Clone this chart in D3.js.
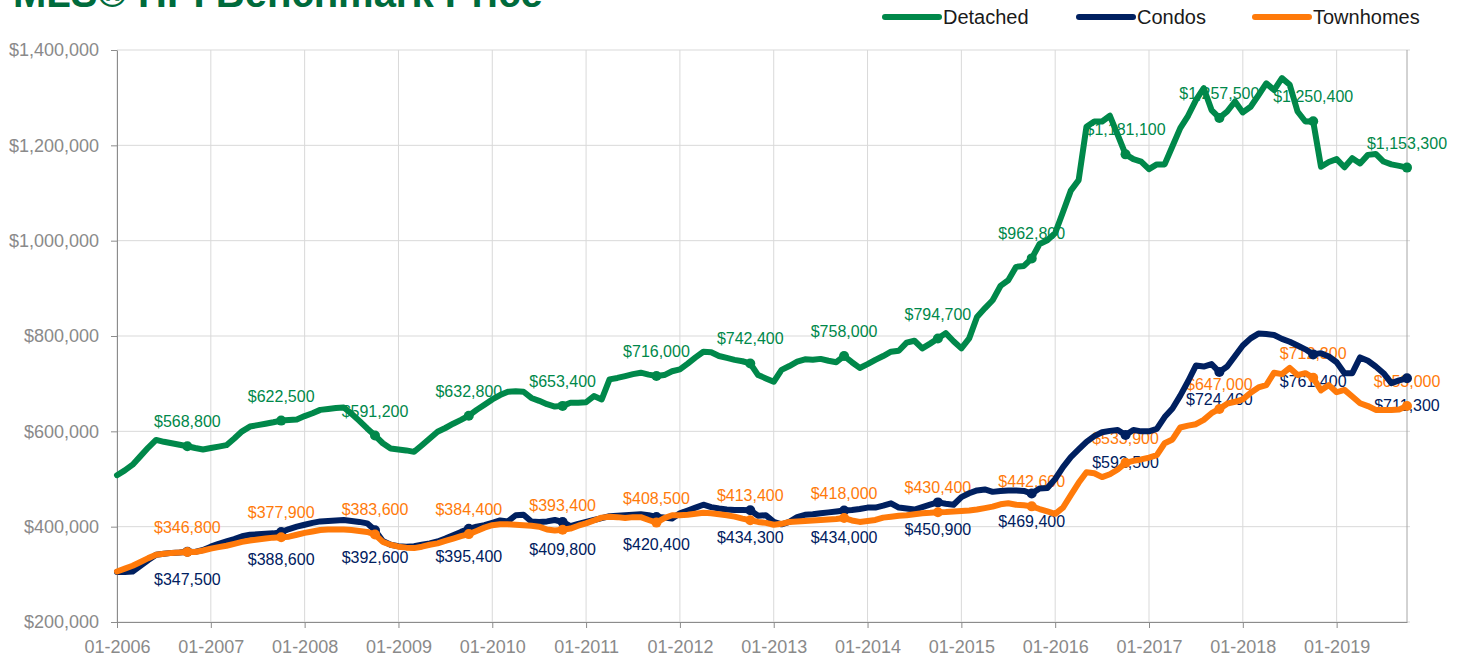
<!DOCTYPE html>
<html>
<head>
<meta charset="utf-8">
<script src="https://cdn.jsdelivr.net/npm/d3@7"></script>
<style>
  body { margin: 0; background: #fff; }
  svg { display: block; font-family: 'Liberation Sans', Arial, sans-serif; }
</style>
</head>
<body>
<div id="chart"></div>
<script>
// monthly categories, 01-2006 .. 10-2019
var months = d3.timeMonth.range(new Date(2006, 0, 1), new Date(2019, 10, 1))
  .map(d3.timeFormat('%m-%Y'));

// benchmark prices, thousands of dollars
var detached = [
  508, 518, 530, 548, 566, 582, 578, 575, 572, 568.8, 565, 562,
  565, 568, 571, 585, 600, 610, 613, 616, 619, 622.5, 624, 625,
  632, 638, 645, 647, 649, 650, 637, 622, 606, 591.2, 575, 564,
  562, 560, 557, 571, 585, 599, 607, 616, 624, 632.8, 645, 656,
  667, 676, 683, 684, 683, 670, 664, 657, 652, 653.4, 660, 660,
  661, 674, 667, 709, 712, 716, 720, 723, 719, 716.0, 718, 726,
  730, 742, 755, 767, 766, 758, 754, 750, 747, 742.4, 718, 711,
  704, 729, 737, 746, 751, 750, 752, 748, 745, 758.0, 745, 733,
  741, 750, 758, 767, 769, 786, 790, 774, 784, 794.7, 806, 789,
  774, 795, 840, 858, 875, 905, 917, 945, 947, 962.8, 993, 1001,
  1016, 1060, 1105, 1127, 1239, 1250, 1250, 1262, 1222, 1181.1, 1171, 1166,
  1150, 1160, 1160, 1198, 1236, 1262, 1295, 1320, 1274, 1257.5, 1271, 1292,
  1269, 1281, 1305, 1330, 1316, 1341, 1327, 1271, 1250, 1250.4, 1155, 1165,
  1171, 1154, 1173, 1162, 1180, 1182, 1166, 1160, 1157, 1153.3
];

var condos = [
  305, 305, 306, 318, 330, 341, 343, 345, 346, 347.5, 347, 351,
  358, 364, 369, 374, 380, 383, 384, 385, 386, 388.6, 395, 400,
  404, 408, 411, 412, 413, 414, 412, 410, 407, 392.6, 370, 362,
  359, 358, 359, 362, 365, 369, 375, 382, 389, 395.4, 400, 403,
  408, 413, 411, 424, 425, 411, 410, 411, 414, 409.8, 401, 406,
  410, 414, 418, 422, 423, 424, 425, 426, 424, 420.4, 419, 417,
  428, 434, 440, 446, 441, 438, 436, 435, 435, 434.3, 423, 424,
  410, 405, 410, 420, 425, 426, 428, 430, 432, 434.0, 435, 437,
  440, 440, 444, 449, 440, 438, 436, 441, 446, 450.9, 448, 446,
  462, 470, 476, 478, 473, 475, 476, 476, 475, 469.4, 480, 481,
  500, 525, 546, 562, 578, 590, 598, 601, 603, 592.5, 603, 600,
  600, 605, 630, 648, 675, 705, 738, 736, 741, 724.4, 736, 758,
  780, 795, 805, 804, 802, 794, 788, 780, 772, 761.4, 764, 757,
  745, 722, 722, 755, 748, 736, 722, 701, 707, 711.3
];

var townhomes = [
  306, 312, 318, 326, 334, 341, 343, 345, 346, 346.8, 347, 350,
  354, 357, 360, 364, 368, 371, 373, 375, 377, 377.9, 379, 383,
  387, 390, 393, 394, 394, 394, 393, 391, 389, 383.6, 368, 362,
  358, 356, 355, 358, 362, 365, 370, 375, 380, 384.4, 391, 398,
  403, 405, 405, 404, 403, 402, 400, 394, 392, 393.4, 396, 402,
  407, 413, 419, 421, 420, 418, 420, 420, 414, 408.5, 418, 424,
  424, 425, 427, 429, 428, 426, 424, 421, 417, 413.4, 410, 408,
  404, 406, 410, 411, 412, 413, 414, 415, 416, 418.0, 413, 410,
  412, 414, 419, 421, 423, 424, 426, 428, 429, 430.4, 431, 432,
  433, 434, 436, 439, 442, 447, 449, 446, 445, 442.6, 437, 432,
  427, 440, 466, 492, 514, 512, 504, 510, 520, 533.9, 538, 541,
  545, 550, 575, 583, 608, 612, 615, 624, 638, 647.0, 658, 662,
  667, 681, 692, 697, 723, 720, 733, 718, 722, 712.3, 686, 697,
  682, 687, 673, 659, 653, 645, 645, 645, 646, 653.0
];

var seriesNames = ['Detached', 'Condos', 'Townhomes'];
var seriesColors = ['#00884a', '#002060', '#ff7a0a'];
var yTicks = [200, 400, 600, 800, 1000, 1200, 1400];
var xTickLabels = ['01-2006', '01-2007', '01-2008', '01-2009', '01-2010', '01-2011', '01-2012',
  '01-2013', '01-2014', '01-2015', '01-2016', '01-2017', '01-2018', '01-2019'];

var Chart = function() {
  var width = 1464,
    height = 660,
    left = 117,
    right = 1407,
    top = 50,
    bottom = 622;

  var svg = d3.select('#chart')
    .append('svg')
    .attr('width', width)
    .attr('height', height);

  var x = d3.scalePoint()
    .domain(months)
    .range([left, right]);

  var y = d3.scaleLinear()
    .domain([200, 1400])
    .range([bottom, top]);

  var money = function(v) {
    return d3.format('$,')(Math.round(v * 1000));
  };

  var series = [detached, condos, townhomes].map(function(values, i) {
    return {
      name: seriesNames[i],
      color: seriesColors[i],
      points: values.map(function(v, j) { return { month: months[j], value: v }; })
    };
  });

  // title, mostly cut off at the top like the source
  svg.append('text')
    .attr('x', 13)
    .attr('y', 7)
    .attr('font-size', 40)
    .attr('font-weight', 'bold')
    .attr('fill', '#006b3c')
    .text('MLS® HPI Benchmark Price');

  // grid
  svg.append('g')
    .selectAll('line.h')
    .data(yTicks)
    .join('line')
    .attr('x1', left)
    .attr('x2', right + 3)
    .attr('y1', function(d) { return y(d); })
    .attr('y2', function(d) { return y(d); })
    .attr('stroke', '#d9d9d9')
    .attr('stroke-width', 1);

  svg.append('g')
    .selectAll('line.v')
    .data(xTickLabels)
    .join('line')
    .attr('x1', function(d) { return x(d); })
    .attr('x2', function(d) { return x(d); })
    .attr('y1', top)
    .attr('y2', bottom)
    .attr('stroke', '#d9d9d9')
    .attr('stroke-width', 1);

  svg.append('line')
    .attr('x1', right).attr('x2', right)
    .attr('y1', top).attr('y2', bottom)
    .attr('stroke', '#a6a6a6');

  // axes
  var yAxis = svg.append('g')
    .attr('transform', 'translate(' + left + ',0)')
    .call(d3.axisLeft(y)
      .tickValues(yTicks)
      .tickFormat(money)
      .tickSizeInner(6)
      .tickSizeOuter(0)
      .tickPadding(12));

  var xAxis = svg.append('g')
    .attr('transform', 'translate(0,' + bottom + ')')
    .call(d3.axisBottom(x)
      .tickValues(xTickLabels)
      .tickSizeInner(6)
      .tickSizeOuter(0)
      .tickPadding(12));

  [yAxis, xAxis].forEach(function(g) {
    g.select('.domain').attr('stroke', '#8c8c8c');
    g.selectAll('.tick line').attr('stroke', '#8c8c8c');
    g.selectAll('.tick text')
      .attr('fill', '#8a8a8a')
      .attr('font-size', 18)
      .attr('font-family', "'Liberation Sans', Arial, sans-serif");
  });

  // data labels on every October, under the lines
  var labelOffset = { Detached: -19, Condos: 33, Townhomes: -19 };
  series.forEach(function(s) {
    svg.append('g')
      .selectAll('text')
      .data(s.points.filter(function(p) { return p.month.slice(0, 2) === '10'; }))
      .join('text')
      .attr('x', function(p) { return x(p.month); })
      .attr('y', function(p) { return y(p.value) + labelOffset[s.name]; })
      .attr('text-anchor', 'middle')
      .attr('font-size', 16)
      .attr('fill', s.color)
      .text(function(p) { return money(p.value); });
  });

  var line = d3.line()
    .x(function(p) { return x(p.month); })
    .y(function(p) { return y(p.value); });

  series.forEach(function(s) {
    svg.append('path')
      .datum(s.points)
      .attr('d', line)
      .attr('fill', 'none')
      .attr('stroke', s.color)
      .attr('stroke-width', 6)
      .attr('stroke-linejoin', 'round')
      .attr('stroke-linecap', 'round');

    svg.append('g')
      .selectAll('circle')
      .data(s.points.filter(function(p) { return p.month.slice(0, 2) === '10'; }))
      .join('circle')
      .attr('cx', function(p) { return x(p.month); })
      .attr('cy', function(p) { return y(p.value); })
      .attr('r', 5)
      .attr('fill', s.color);
  });

  // legend
  var legendX = [885, 1079, 1255];
  var legend = svg.append('g')
    .selectAll('g')
    .data(series)
    .join('g')
    .attr('transform', function(s, i) { return 'translate(' + legendX[i] + ',17)'; });

  legend.append('line')
    .attr('x1', 0)
    .attr('x2', 54)
    .attr('stroke', function(s) { return s.color; })
    .attr('stroke-width', 6)
    .attr('stroke-linecap', 'round');

  legend.append('text')
    .attr('x', 58)
    .attr('y', 7)
    .attr('font-size', 20)
    .attr('fill', '#1a1a1a')
    .text(function(s) { return s.name; });
};

Chart();
</script>
</body>
</html>
